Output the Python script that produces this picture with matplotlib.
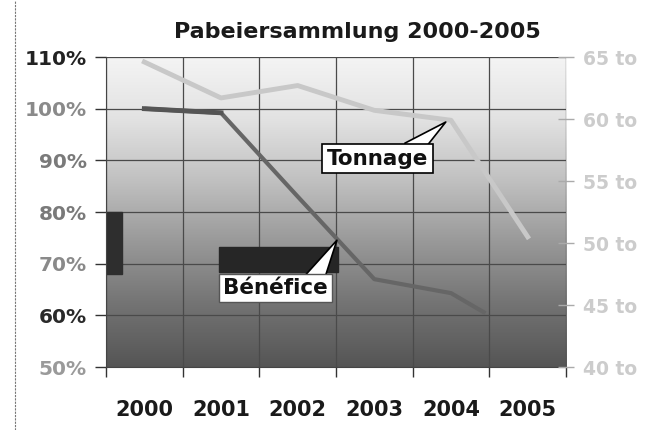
import numpy as np
import matplotlib.pyplot as plt
from matplotlib.colors import LinearSegmentedColormap
from matplotlib.patches import Rectangle

# Daten
jahre = ['2000', '2001', '2002', '2003', '2004', '2005']
tonnage_x = [0, 1, 2, 3, 4, 5]
tonnage = [64.6, 61.7, 62.7, 60.7, 59.9, 50.5]          # Tonnen (rechte Achse)
benefice_x = [0, 1, 2, 3, 4, 4.45]
benefice = [100.0, 99.2, 83.0, 67.0, 64.3, 60.4]        # % (linke Achse)
y_ticks = [50, 60, 70, 80, 90, 100, 110]
y_farben = ['#9a9a9a', '#2a2a2a', '#8a8a8a', '#7a7a7a', '#7a7a7a', '#8a8a8a', '#222222']
t_ticks = [40, 45, 50, 55, 60, 65]

FONT = 'DejaVu Sans'

fig = plt.figure(figsize=(6.49, 4.30), dpi=100)
ax = fig.add_axes([0.1633, 0.1465, 0.7088, 0.7209])

# Hintergrundverlauf
cmap = LinearSegmentedColormap.from_list(
    'grau', [(0.0, '#555555'), (0.2, '#737373'), (0.4, '#989898'),
             (0.6, '#c0c0c0'), (0.8, '#e2e2e2'), (1.0, '#f4f4f4')])
grad = np.linspace(0, 1, 256).reshape(-1, 1)
ax.imshow(grad, extent=[-0.5, 5.5, 50, 110], origin='lower', aspect='auto',
          cmap=cmap, zorder=0)

ax.set_xlim(-0.5, 5.5)
ax.set_ylim(50, 110)

# Gitter
for y in y_ticks:
    ax.axhline(y, color='#4a4a4a', lw=0.9, zorder=1)
for xb in np.arange(-0.5, 6.0, 1.0):
    ax.axvline(xb, color='#4a4a4a', lw=0.9, zorder=1)

# dunkle Flecken aus dem Original
ax.add_patch(Rectangle((-0.5, 68), 0.21, 12, color='#2e2e2e', zorder=2))
ax.add_patch(Rectangle((0.98, 68.3), 1.54, 4.9, color='#262626', zorder=2))

# Bénéfice
ax.plot(benefice_x, benefice, color='#666666', lw=3, zorder=3,
        solid_capstyle='butt')
ax.plot(benefice_x[:2], benefice[:2], color='#555555', lw=3.5, zorder=3)

# Tonnage (rechte Achse)
ax2 = ax.twinx()
ax2.set_ylim(40, 65)
ax2.plot(tonnage_x, tonnage, color='#c8c8c8', lw=3.5, zorder=3)

# Achsen
ax.set_yticks(y_ticks)
ax.set_yticklabels([f'{v}%' for v in y_ticks], fontfamily=FONT,
                   fontweight='bold', fontsize=14.5)
for lbl, c in zip(ax.get_yticklabels(), y_farben):
    lbl.set_color(c)
ax.tick_params(axis='y', length=8, width=1, color='#333333', pad=6)

ax.set_xticks(np.arange(-0.5, 6.0, 1.0), minor=False)
ax.set_xticklabels([])
ax.tick_params(axis='x', length=7, width=1, color='#333333')
for i, j in enumerate(jahre):
    ax.text(i, -0.14, j, transform=ax.get_xaxis_transform(), ha='center',
            va='center', fontfamily=FONT, fontweight='bold', fontsize=15,
            color='#1a1a1a')

ax2.set_yticks(t_ticks)
ax2.set_yticklabels([f'{v} to' for v in t_ticks], fontfamily=FONT,
                    fontweight='bold', fontsize=13.5, color='#cccccc')
ax2.tick_params(axis='y', length=12, width=1, color='#aaaaaa',
                direction='inout', pad=6)

for a in (ax, ax2):
    for s in a.spines.values():
        s.set_visible(False)
ax.spines['left'].set_visible(True)
ax.spines['left'].set_color('#444444')
ax.spines['bottom'].set_visible(True)
ax.spines['bottom'].set_color('#444444')

# Sprechblasen
ax2.annotate('', xy=(3.96, tonnage[4]), xytext=(3.45, 57.3), zorder=5,
             arrowprops=dict(arrowstyle='wedge,tail_width=1.4,shrink_factor=0.5',
                             fc='white', ec='black', lw=1.2))
ax2.text(3.04, 56.8, 'Tonnage', ha='center', va='center', fontfamily=FONT,
         fontweight='bold', fontsize=15.5, color='#111111', zorder=6,
         bbox=dict(boxstyle='square,pad=0.22', fc='white', ec='black', lw=1.2))

ax.annotate('', xy=(2.53, 75.0), xytext=(2.2, 66.5), zorder=5,
            arrowprops=dict(arrowstyle='wedge,tail_width=1.4,shrink_factor=0.5',
                            fc='white', ec='black', lw=1.2))
ax.text(1.71, 65.3, 'Bénéfice', ha='center', va='center', fontfamily=FONT,
        fontweight='bold', fontsize=15.5, color='#111111', zorder=6,
        bbox=dict(boxstyle='square,pad=0.2', fc='white', ec='#555555', lw=1.0))

fig.text(0.55, 0.925, 'Pabeiersammlung 2000-2005', ha='center', va='center',
         fontfamily=FONT, fontweight='bold', fontsize=16, color='#1a1a1a')

# gestrichelte Linie am linken Rand
fig.add_artist(plt.Line2D([0.023, 0.023], [0.0, 1.0], color='#777777',
                          lw=0.8, ls=(0, (2, 1))))

fig.savefig('out.png', dpi=100)
